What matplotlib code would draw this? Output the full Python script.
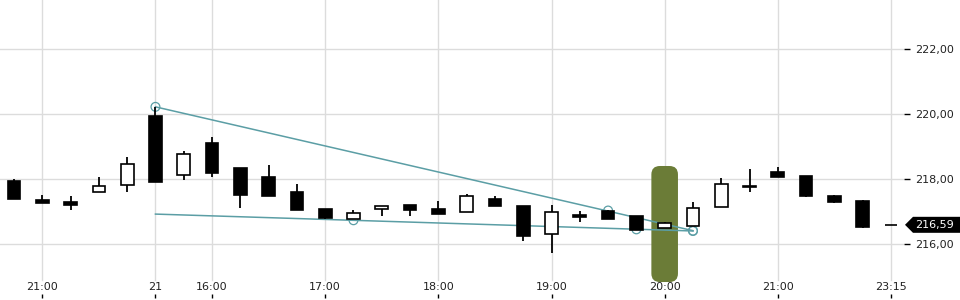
import matplotlib
matplotlib.use('Agg')
import matplotlib.pyplot as plt
from matplotlib.patches import FancyBboxPatch, Polygon

# OHLC values
opens  = [217.94, 217.34, 217.29, 217.61, 217.81, 219.94, 218.11, 219.10, 218.34, 218.06,
          217.60, 217.07, 216.76, 217.09, 217.20, 217.08, 216.99, 217.38, 217.17, 216.30,
          216.89, 217.02, 216.86, 216.48, 216.56, 217.15, 217.77, 218.21, 218.09, 217.48,
          217.32, 216.59]
highs  = [218.00, 217.51, 217.48, 218.06, 218.67, 220.22, 218.86, 219.29, 218.34, 218.43,
          217.85, 217.07, 217.05, 217.16, 217.20, 217.32, 217.54, 217.48, 217.17, 217.20,
          217.00, 217.05, 216.86, 216.69, 217.29, 218.03, 218.31, 218.36, 218.09, 217.51,
          217.35, 216.59]
lows   = [217.39, 217.25, 217.06, 217.61, 217.61, 217.92, 217.98, 218.07, 217.12, 217.49,
          217.06, 216.78, 216.76, 216.87, 216.87, 216.93, 216.99, 217.18, 216.10, 215.71,
          216.69, 216.78, 216.43, 216.48, 216.56, 217.15, 217.61, 218.07, 217.46, 217.25,
          216.50, 216.59]
closes = [217.39, 217.25, 217.21, 217.78, 218.45, 217.92, 218.76, 218.19, 217.52, 217.49,
          217.06, 216.81, 216.94, 217.16, 217.06, 216.93, 217.48, 217.18, 216.26, 216.98,
          216.82, 216.78, 216.43, 216.64, 217.10, 217.84, 217.76, 218.07, 217.49, 217.30,
          216.53, 216.59]

tick_idx = [1, 5, 7, 11, 15, 19, 23, 27, 31]
tick_labels = ['21:00', '21', '16:00', '17:00', '18:00', '19:00', '20:00', '21:00', '23:15']
y_ticks = [216, 218, 220, 222]
last_price = 216.59

# trend lines (start / end) and their touch points
line1_x, line1_y = [5, 24], [220.22, 216.41]
line1_pts_x, line1_pts_y = [5, 21, 24], [220.22, 217.03, 216.41]
line2_x, line2_y = [5, 24], [216.92, 216.40]
line2_pts_x, line2_pts_y = [12, 22, 24], [216.73, 216.45, 216.40]

highlight_idx = 23
highlight_range = (214.83, 218.40)

teal = '#5b9ea5'
grid_c = '#dcdcdc'

fig = plt.figure(figsize=(9.6, 3.0), dpi=100)
ax = fig.add_axes([0, 2 / 300, 904 / 960, 298 / 300])
ax.set_xlim(-0.495, 31.46)
ax.set_ylim(214.338, 223.508)

for s in ax.spines.values():
    s.set_visible(False)

# grid
for v in y_ticks:
    ax.axhline(v, color=grid_c, lw=1, zorder=0)
for i in tick_idx:
    ax.axvline(i, ymin=0.06, color=grid_c, lw=1, zorder=0)

# highlighted candle
hb = FancyBboxPatch((highlight_idx - 0.47, highlight_range[0]), 0.94,
                    highlight_range[1] - highlight_range[0],
                    boxstyle='round,pad=0,rounding_size=0.3', mutation_aspect=0.87,
                    fc='#6b7c37', ec='none', zorder=1)
ax.add_patch(hb)

# trend lines
ax.plot(line1_x, line1_y, color=teal, lw=1.1, zorder=2)
ax.plot(line2_x, line2_y, color=teal, lw=1.1, zorder=2)
ax.scatter(line1_pts_x, line1_pts_y, s=40, facecolors='none', edgecolors=teal, lw=0.9, zorder=2)
ax.scatter(line2_pts_x, line2_pts_y, s=40, facecolors='none', edgecolors=teal, lw=0.9, zorder=2)

# candles
xs = list(range(len(opens)))
ax.vlines(xs, lows, highs, color='black', lw=1.3, zorder=3)
fills = ['white' if c > o else 'black' for o, c in zip(opens, closes)]
heights = [c - o for o, c in zip(opens, closes)]
ax.bar(xs, heights, bottom=opens, width=0.45, color=fills, edgecolor='black',
       linewidth=1.2, zorder=4)

# axes ticks
ax.set_xticks(tick_idx)
ax.set_xticklabels(tick_labels)
ax.tick_params(axis='x', direction='in', length=3, width=1, color='black',
               pad=-11.5, labelsize=8, labelcolor='#222222')
ax.yaxis.tick_right()
ax.set_yticks(y_ticks)
ax.set_yticklabels([f'{v:.2f}'.replace('.', ',') for v in y_ticks])
ax.tick_params(axis='y', direction='out', length=4.3, width=1, color='black',
               pad=3.6, labelsize=8, labelcolor='#222222')

# last price tag
tr = ax.get_yaxis_transform()
h = 8 / 32.5
tag = Polygon([(905 / 904, last_price), (913 / 904, last_price + h), (960 / 904, last_price + h),
               (960 / 904, last_price - h), (913 / 904, last_price - h)],
              closed=True, fc='black', ec='none', transform=tr, clip_on=False, zorder=5)
ax.add_patch(tag)
ax.text(935 / 904, last_price, f'{last_price:.2f}'.replace('.', ','), transform=tr,
        color='white', fontsize=8, ha='center', va='center', clip_on=False, zorder=6)

fig.savefig('out.png', dpi=100)
